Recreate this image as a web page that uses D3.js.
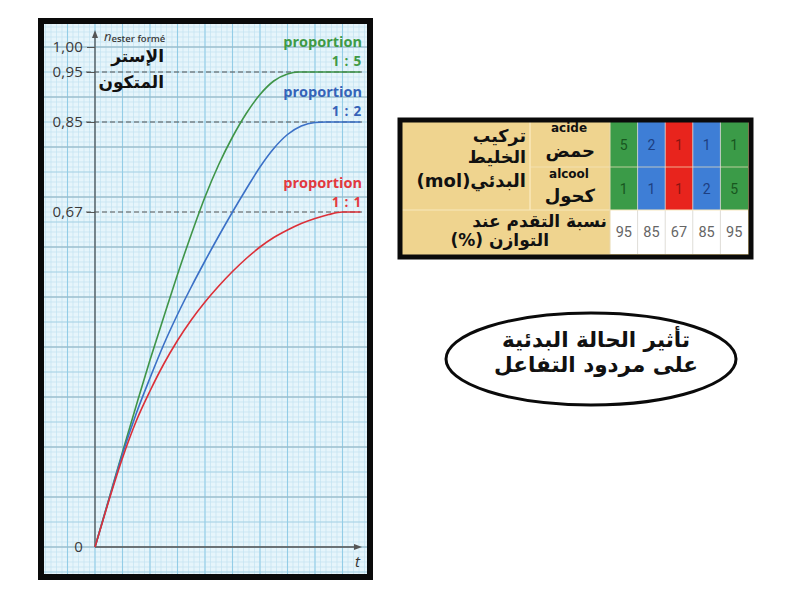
<!DOCTYPE html>
<html>
<head>
<meta charset="utf-8">
<script src="https://cdnjs.cloudflare.com/ajax/libs/d3/7.8.5/d3.min.js"></script>
<style>
  html, body { margin: 0; padding: 0; background: #ffffff; }
  svg { display: block; }
</style>
</head>
<body>
<svg id="chart" width="800" height="614"></svg>
<script>
// ---------------- DATA ----------------
const yTickValues = [0, 0.67, 0.85, 0.95, 1.00];
const yTickLabels = ["0", "0,67", "0,85", "0,95", "1,00"];
const dashedLevels = [0.95, 0.85, 0.67];

const seriesNames = ["1 : 5", "1 : 2", "1 : 1"];
const seriesColors = ["#3f9548", "#3b70c6", "#dc3038"];
const seriesTextColors = ["#3f9a46", "#3563b8", "#e2393f"];

// t in grid units (one major vertical division = 1), n in mol
const curve15 = [[0,0],[0.5,0.095],[1,0.19],[1.5,0.283],[2,0.374],[2.5,0.46],[3,0.545],[3.5,0.625],[4,0.70],[4.5,0.765],[5,0.82],[5.5,0.867],[6,0.905],[6.5,0.932],[7,0.946],[7.4,0.95],[9.65,0.95]];
const curve12 = [[0,0],[0.5,0.094],[1,0.186],[1.5,0.267],[2,0.338],[2.5,0.405],[3,0.465],[3.5,0.52],[4,0.572],[4.5,0.622],[5,0.67],[5.5,0.716],[6,0.76],[6.5,0.797],[7,0.825],[7.5,0.842],[8,0.849],[8.4,0.85],[9.65,0.85]];
const curve11 = [[0,0],[0.5,0.092],[1,0.178],[1.5,0.252],[2,0.312],[2.5,0.366],[3,0.413],[3.5,0.454],[4,0.49],[4.5,0.522],[5,0.551],[5.5,0.577],[6,0.60],[6.5,0.619],[7,0.634],[7.5,0.647],[8,0.657],[8.5,0.665],[9,0.67],[9.65,0.67]];
const curves = [curve15, curve12, curve11];

// table
const acideValues  = [5, 2, 1, 1, 1];
const alcoolValues = [1, 1, 1, 2, 5];
const avancementValues = [95, 85, 67, 85, 95];
const columnKinds = ["g", "b", "r", "b", "g"];

// ---------------- DRAW ----------------
const svg = d3.select("#chart");

const frame = {x0: 41, y0: 21, x1: 370, y1: 577};
const x = d3.scaleLinear().domain([0, 9.6]).range([95, 359]);
const y = d3.scaleLinear().domain([0, 1]).range([547, 47]);

const g = svg.append("g");

g.append("rect").attr("x", frame.x0).attr("y", frame.y0)
  .attr("width", frame.x1 - frame.x0).attr("height", frame.y1 - frame.y0)
  .attr("fill", "#e6f5fb");

const clip = svg.append("defs").append("clipPath").attr("id", "fclip");
clip.append("rect").attr("x", frame.x0).attr("y", frame.y0)
  .attr("width", frame.x1 - frame.x0).attr("height", frame.y1 - frame.y0);

const grid = g.append("g").attr("clip-path", "url(#fclip)");
const tMin = x.invert(frame.x0), tMax = x.invert(frame.x1);
const nMin = y.invert(frame.y1), nMax = y.invert(frame.y0);

const vMinor = d3.range(Math.floor(tMin / 0.2), Math.ceil(tMax / 0.2) + 1).map(i => i * 0.2);
grid.selectAll(".vmin").data(vMinor).join("line")
  .attr("x1", d => x(d)).attr("x2", d => x(d))
  .attr("y1", frame.y0).attr("y2", frame.y1)
  .attr("stroke", "#c2e2f0").attr("stroke-width", 0.7);
const hMinor = d3.range(Math.floor(nMin / 0.01), Math.ceil(nMax / 0.01) + 1).map(i => i * 0.01);
grid.selectAll(".hmin").data(hMinor).join("line")
  .attr("y1", d => y(d)).attr("y2", d => y(d))
  .attr("x1", frame.x0).attr("x2", frame.x1)
  .attr("stroke", "#c2e2f0").attr("stroke-width", 0.7);
const hMed = d3.range(Math.floor(nMin / 0.05), Math.ceil(nMax / 0.05) + 1).map(i => i * 0.05);
grid.selectAll(".hmed").data(hMed).join("line")
  .attr("y1", d => y(d)).attr("y2", d => y(d))
  .attr("x1", frame.x0).attr("x2", frame.x1)
  .attr("stroke", "#a6d1e4").attr("stroke-width", 0.9);
const vMaj = d3.range(Math.floor(tMin), Math.ceil(tMax) + 1);
grid.selectAll(".vmaj").data(vMaj).join("line")
  .attr("x1", d => x(d)).attr("x2", d => x(d))
  .attr("y1", frame.y0).attr("y2", frame.y1)
  .attr("stroke", "#93cde7").attr("stroke-width", 1.1);
const hMaj = d3.range(Math.floor(nMin / 0.1), Math.ceil(nMax / 0.1) + 1).map(i => i * 0.1);
grid.selectAll(".hmaj").data(hMaj).join("line")
  .attr("y1", d => y(d)).attr("y2", d => y(d))
  .attr("x1", frame.x0).attr("x2", frame.x1)
  .attr("stroke", "#95b6c4").attr("stroke-width", 1.1);

g.selectAll(".dash").data(dashedLevels).join("line")
  .attr("x1", 86).attr("x2", 362)
  .attr("y1", d => y(d)).attr("y2", d => y(d))
  .attr("stroke", "#555").attr("stroke-width", 1)
  .attr("stroke-dasharray", "5,3");

const yAxis = d3.axisLeft(y).tickValues(yTickValues)
  .tickFormat((d, i) => yTickLabels[i]).tickSize(8).tickPadding(4);
const ya = g.append("g").attr("transform", `translate(${x(0)},0)`).call(yAxis);
ya.select(".domain").remove();
ya.selectAll(".tick line").attr("stroke", "#555").attr("stroke-width", 1)
  .filter(d => d === 0).remove();
ya.selectAll(".tick text").attr("font-family", "Open Sans, sans-serif")
  .attr("font-size", 15).attr("fill", "#3a3a3a").attr("letter-spacing", 0.2);

g.append("line").attr("x1", x(0)).attr("x2", x(0)).attr("y1", y(0)).attr("y2", 36)
  .attr("stroke", "#555").attr("stroke-width", 1.3);
g.append("path").attr("d", `M${x(0)},30 L${x(0) - 3},38 L${x(0) + 3},38 Z`).attr("fill", "#555");
g.append("line").attr("x1", x(0)).attr("x2", 356).attr("y1", y(0)).attr("y2", y(0))
  .attr("stroke", "#555").attr("stroke-width", 1.3);
g.append("path").attr("d", `M362,${y(0)} L354,${y(0) - 3} L354,${y(0) + 3} Z`).attr("fill", "#555");

g.append("text").attr("x", 355).attr("y", 567).text("t")
  .attr("font-family", "Open Sans, sans-serif").attr("font-style", "italic")
  .attr("font-size", 15).attr("fill", "#333");

const yl = g.append("text").attr("x", 104).attr("y", 41)
  .attr("font-family", "Open Sans, sans-serif").attr("fill", "#3a3a3a");
yl.append("tspan").text("n").attr("font-style", "italic").attr("font-size", 13);
yl.append("tspan").text("ester formé").attr("font-size", 9.5).attr("font-weight", 600).attr("dy", 1);

g.append("text").attr("x", 164).attr("y", 62).text("الإستر")
  .attr("font-family", "DejaVu Sans, sans-serif").attr("font-weight", "bold")
  .attr("font-size", 17).attr("text-anchor", "end").attr("fill", "#111");
g.append("text").attr("x", 164).attr("y", 88).text("المتكون")
  .attr("font-family", "DejaVu Sans, sans-serif").attr("font-weight", "bold")
  .attr("font-size", 17).attr("text-anchor", "end").attr("fill", "#111");

const line = d3.line().x(d => x(d[0])).y(d => y(d[1])).curve(d3.curveMonotoneX);
g.selectAll(".curve").data(curves).join("path")
  .attr("d", d => line(d)).attr("fill", "none")
  .attr("stroke", (d, i) => seriesColors[i]).attr("stroke-width", 1.6);

const labelBase = [[47, 66], [97, 116], [188, 207]];
seriesNames.forEach((name, i) => {
  g.append("text").attr("x", 362).attr("y", labelBase[i][0]).text("proportion")
    .attr("text-anchor", "end").attr("font-family", "Open Sans, sans-serif")
    .attr("font-weight", "bold").attr("font-size", 14.5).attr("fill", seriesTextColors[i]);
  g.append("text").attr("x", 362).attr("y", labelBase[i][1]).text(name)
    .attr("text-anchor", "end").attr("font-family", "Open Sans, sans-serif")
    .attr("font-weight", "bold").attr("font-size", 13.5).attr("letter-spacing", 0.8)
    .attr("fill", seriesTextColors[i]);
});

g.append("rect").attr("x", frame.x0).attr("y", frame.y0)
  .attr("width", frame.x1 - frame.x0).attr("height", frame.y1 - frame.y0)
  .attr("fill", "none").attr("stroke", "#0a0a0a").attr("stroke-width", 6);

// ---------------- TABLE ----------------
const T = {x0: 400, y0: 120, x1: 751, y1: 257};
const colX = d3.scaleBand().domain(d3.range(acideValues.length)).range([610, 748]);
const rowY = [122, 167, 210, 254];
const cellFill = {g: "#3b9b48", b: "#3e7ed6", r: "#e8241d"};
const cellText = {g: "#18561f", b: "#1d3f82", r: "#8c1410"};
const tg = svg.append("g");

tg.append("rect").attr("x", T.x0).attr("y", T.y0).attr("width", T.x1 - T.x0).attr("height", T.y1 - T.y0)
  .attr("fill", "#efd48f");
[acideValues, alcoolValues].forEach((vals, r) => {
  tg.selectAll(".c" + r).data(vals).join("rect")
    .attr("x", (d, i) => colX(i)).attr("y", rowY[r])
    .attr("width", colX.bandwidth()).attr("height", rowY[r + 1] - rowY[r])
    .attr("fill", (d, i) => cellFill[columnKinds[i]]);
  tg.selectAll(".t" + r).data(vals).join("text")
    .attr("x", (d, i) => colX(i) + colX.bandwidth() / 2)
    .attr("y", (rowY[r] + rowY[r + 1]) / 2 + 5)
    .attr("text-anchor", "middle").text(d => d)
    .attr("font-family", "Roboto, sans-serif").attr("font-size", 14)
    .attr("fill", (d, i) => cellText[columnKinds[i]]);
});
tg.selectAll(".w").data(avancementValues).join("rect")
  .attr("x", (d, i) => colX(i)).attr("y", rowY[2])
  .attr("width", colX.bandwidth()).attr("height", rowY[3] - rowY[2])
  .attr("fill", "#ffffff");
tg.selectAll(".tw").data(avancementValues).join("text")
  .attr("x", (d, i) => colX(i) + colX.bandwidth() / 2)
  .attr("y", (rowY[2] + rowY[3]) / 2 + 5)
  .attr("text-anchor", "middle").text(d => d)
  .attr("font-family", "Roboto, sans-serif").attr("font-size", 14.5)
  .attr("fill", "#666");
tg.selectAll(".vsep").data(d3.range(1, acideValues.length)).join("line")
  .attr("x1", d => colX(d)).attr("x2", d => colX(d))
  .attr("y1", rowY[0]).attr("y2", rowY[3])
  .attr("stroke", "#d9d9d9").attr("stroke-width", 1).attr("opacity", 0.8);
tg.append("line").attr("x1", 530).attr("x2", 530).attr("y1", rowY[0]).attr("y2", rowY[2])
  .attr("stroke", "#fbecc4").attr("stroke-width", 1.2);
tg.append("line").attr("x1", 530).attr("x2", 748).attr("y1", rowY[1]).attr("y2", rowY[1])
  .attr("stroke", "#f5e6bf").attr("stroke-width", 1).attr("opacity", 0.7);
tg.append("line").attr("x1", 402).attr("x2", 748).attr("y1", rowY[2]).attr("y2", rowY[2])
  .attr("stroke", "#f7e7bd").attr("stroke-width", 1.2);
tg.append("line").attr("x1", 610).attr("x2", 610).attr("y1", rowY[0]).attr("y2", rowY[3])
  .attr("stroke", "#e8d9b0").attr("stroke-width", 1);

const arabicBold = (sel, xPos, yPos, txt, size) => sel.append("text")
  .attr("x", xPos).attr("y", yPos).text(txt)
  .attr("direction", "rtl").attr("text-anchor", "start")
  .attr("font-family", "DejaVu Sans, sans-serif").attr("font-weight", "bold")
  .attr("font-size", size).attr("fill", "#111");

arabicBold(tg, 526, 142, "تركيب", 17.5);
arabicBold(tg, 526, 163, "الخليط", 17.5);
arabicBold(tg, 526, 187, "البدئي(mol)", 18);
arabicBold(tg, 607, 227, "نسبة التقدم عند", 17);
arabicBold(tg, 549, 246, "التوازن (%)", 17);

tg.append("text").attr("x", 569).attr("y", 132).text("acide").attr("text-anchor", "middle")
  .attr("font-family", "DejaVu Sans, sans-serif").attr("font-weight", "bold").attr("font-size", 12).attr("fill", "#111");
arabicBold(tg, 595, 157, "حمض", 18);
tg.append("text").attr("x", 569).attr("y", 178).text("alcool").attr("text-anchor", "middle")
  .attr("font-family", "DejaVu Sans, sans-serif").attr("font-weight", "bold").attr("font-size", 12).attr("fill", "#111");
arabicBold(tg, 595, 202, "كحول", 18);

tg.append("rect").attr("x", T.x0).attr("y", T.y0).attr("width", T.x1 - T.x0).attr("height", T.y1 - T.y0)
  .attr("fill", "none").attr("stroke", "#0a0a0a").attr("stroke-width", 5);

// ---------------- ELLIPSE NOTE ----------------
const eg = svg.append("g");
eg.append("ellipse").attr("cx", 591).attr("cy", 359).attr("rx", 145).attr("ry", 46)
  .attr("fill", "#ffffff").attr("stroke", "#0a0a0a").attr("stroke-width", 3);
eg.append("text").attr("x", 596).attr("y", 347).text("تأثير الحالة البدئية")
  .attr("text-anchor", "middle").attr("font-family", "DejaVu Sans, sans-serif")
  .attr("font-weight", "bold").attr("font-size", 21.5).attr("fill", "#111");
eg.append("text").attr("x", 596).attr("y", 372).text("على مردود التفاعل")
  .attr("text-anchor", "middle").attr("font-family", "DejaVu Sans, sans-serif")
  .attr("font-weight", "bold").attr("font-size", 21.5).attr("fill", "#111");
</script>
</body>
</html>
